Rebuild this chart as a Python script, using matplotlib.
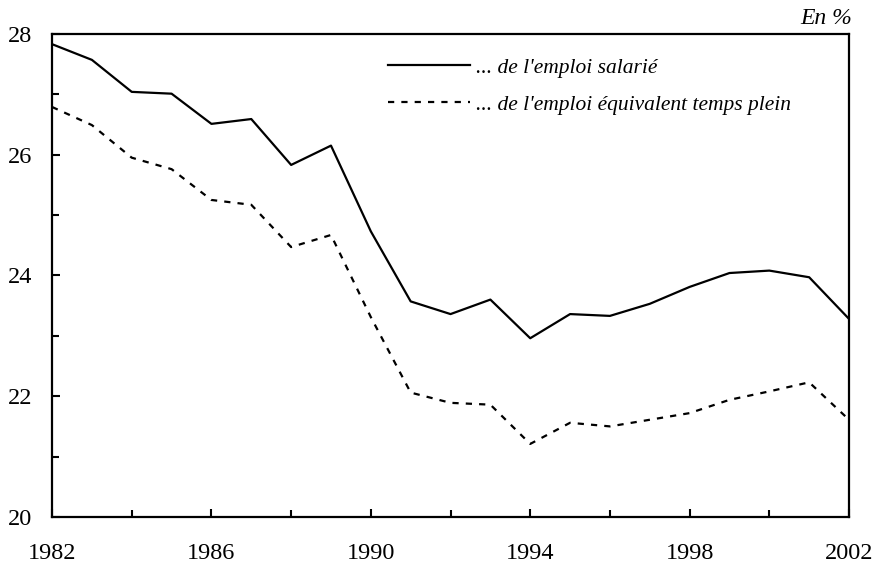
import matplotlib.pyplot as plt
from matplotlib.ticker import FixedLocator, MultipleLocator

plt.rcParams['font.family'] = ['Liberation Serif', 'DejaVu Serif']

# données
annees = list(range(1982, 2003))
emploi_salarie = [27.83, 27.57, 27.04, 27.01, 26.51, 26.59, 25.83, 26.15, 24.73, 23.57,
                  23.36, 23.60, 22.96, 23.36, 23.33, 23.53, 23.81, 24.04, 24.08, 23.97, 23.28]
emploi_etp = [26.79, 26.49, 25.95, 25.76, 25.25, 25.17, 24.47, 24.67, 23.31, 22.06,
              21.89, 21.86, 21.21, 21.56, 21.50, 21.61, 21.72, 21.94, 22.08, 22.23, 21.61]
labels = ["... de l'emploi salarié", "... de l'emploi équivalent temps plein"]
annees_labels = [1982, 1986, 1990, 1994, 1998, 2002]

fig = plt.figure(figsize=(8.79, 5.65), dpi=100)
ax = fig.add_axes([0.0592, 0.085, 0.9067, 0.855])

ax.plot(annees, emploi_salarie, color='black', lw=1.6, label=labels[0])
ax.plot(annees, emploi_etp, color='black', lw=1.6, linestyle=(0, (2.8, 3.2)), label=labels[1])

ax.set_xlim(1982, 2002)
ax.set_ylim(20, 28)
ax.xaxis.set_major_locator(FixedLocator(annees_labels))
ax.xaxis.set_minor_locator(FixedLocator([a + 2 for a in annees_labels[:-1]]))
ax.yaxis.set_major_locator(MultipleLocator(2))
ax.yaxis.set_minor_locator(MultipleLocator(1))
ax.tick_params(which='both', direction='in', width=1.5, labelsize=17.5)
ax.tick_params(which='major', length=6)
ax.tick_params(which='minor', length=5)
ax.tick_params(axis='x', pad=19)
ax.tick_params(axis='y', pad=14)
for s in ax.spines.values():
    s.set_linewidth(1.6)

leg = ax.legend(loc='upper left', bbox_to_anchor=(0.397, 0.991), frameon=False,
                handlelength=3.8, handletextpad=0.28, labelspacing=0.78,
                prop={'style': 'italic', 'size': 15.5})

fig.text(0.969, 0.9575, 'En %', ha='right', va='baseline', fontsize=17, style='italic')

fig.savefig('out.png', dpi=100)
